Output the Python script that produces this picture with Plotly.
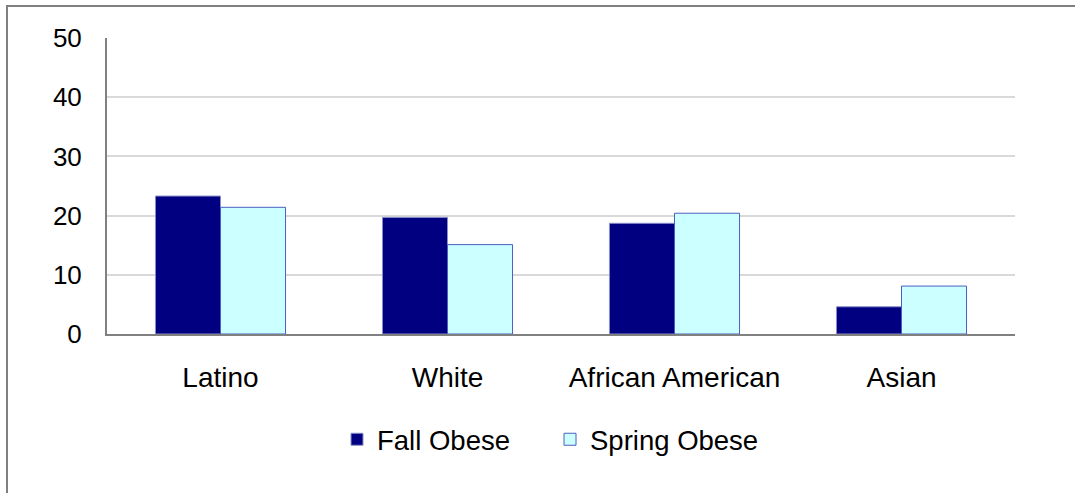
import plotly.graph_objects as go

categories = ["Latino", "White", "African American", "Asian"]
fall_obese = [23.3, 19.7, 18.7, 4.6]
spring_obese = [21.4, 15.1, 20.4, 8.1]
y_ticks = [0, 10, 20, 30, 40, 50]

W, H = 1075, 493
left, right, top, bottom = 107, 60, 38, 158.5
plot_w = W - left - right
plot_h = H - top - bottom

family = "Liberation Sans, Arial, sans-serif"
cat_font = dict(family=family, size=28, color="#000000")
tick_font = dict(family=family, size=26, color="#000000")
legend_font = dict(family=family, size=27.5, color="#000000")

fig = go.Figure()
fig.add_trace(go.Bar(
    x=categories, y=fall_obese, name="Fall Obese",
    marker=dict(color="#000080", line=dict(color="#8A8FC8", width=1)),
))
fig.add_trace(go.Bar(
    x=categories, y=spring_obese, name="Spring Obese",
    marker=dict(color="#CCFFFF", line=dict(color="#4A5FC0", width=1)),
))

# outer chart frame: only the left and top edges fall inside the page
fx0 = (7 - left) / plot_w
fy1 = (H - bottom - 6) / plot_h
fig.add_shape(
    type="path", xref="paper", yref="paper",
    path=f"M {fx0},-1 L {fx0},{fy1} L 1.2,{fy1}",
    line=dict(color="#808080", width=2), layer="below",
)

fig.update_layout(
    width=W, height=H,
    margin=dict(l=left, r=right, t=top, b=bottom),
    paper_bgcolor="white", plot_bgcolor="white",
    barmode="group", bargap=0.427, bargroupgap=0,
    font=legend_font,
    showlegend=True,
    legend=dict(
        orientation="h", x=(337 - left) / plot_w, xanchor="left",
        y=-0.356, yanchor="middle",
        font=legend_font, entrywidth=168, entrywidthmode="pixels",
        traceorder="normal", itemwidth=30,
    ),
    xaxis=dict(
        showline=True, linecolor="#808080", linewidth=2,
        ticks="", tickfont=cat_font, ticklabelstandoff=17,
        showgrid=False, zeroline=False,
    ),
    yaxis=dict(
        range=[0, 50], tickvals=y_ticks, ticktext=[str(v) for v in y_ticks],
        showline=True, linecolor="#808080", linewidth=2,
        showgrid=True, gridcolor="#D9D9D9", gridwidth=2,
        ticks="", tickfont=tick_font, ticklabelstandoff=18, zeroline=False,
    ),
)

fig.write_html("out.html")
